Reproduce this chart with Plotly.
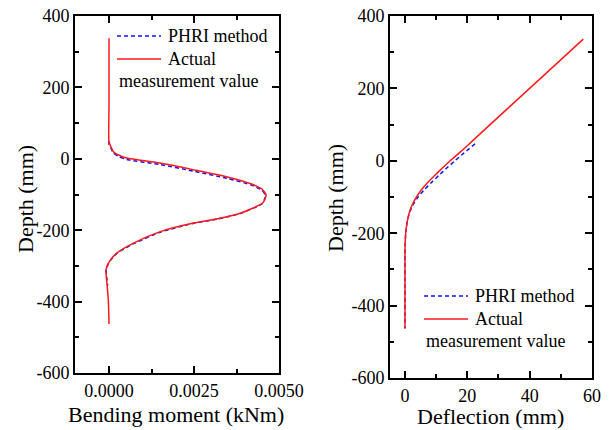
import plotly.graph_objects as go

# Bending moment profile (kNm) against depth (mm)
bm_depth_actual = [338, 150, 48, 35, 20, 10, 2, -12, -31, -51, -70, -85, -101, -110,
                   -124, -152, -168, -180, -204, -236, -264, -288, -311, -339, -395, -463]
bm_actual = [0.0, 0.0, 0.0, 0.00005, 0.00013, 0.0003, 0.00052, 0.0015, 0.0025, 0.00348,
             0.00417, 0.0045, 0.00462, 0.0046, 0.00452, 0.00388, 0.0032, 0.00249,
             0.00151, 0.00072, 0.00023, 0.00001, -0.00009, -0.00007, -0.00002, 0.0]

bm_depth_phri = [50, 40, 31, 16, 6, -2, -16, -35, -55, -73, -88, -103, -112,
                 -126, -153, -169, -181, -206, -239, -266, -290, -312, -340, -355]
bm_phri = [0.0, 0.0, 0.00005, 0.00013, 0.0003, 0.00052, 0.0015, 0.0025, 0.00348,
           0.00417, 0.0045, 0.0046, 0.00458, 0.0045, 0.00386, 0.00318, 0.00247,
           0.0015, 0.0007, 0.00022, 0.0, -0.00008, -0.00006, -0.00004]

# Deflection profile (mm) against depth (mm)
df_depth_actual = [336, 200, 100, 53, 26, 0, -20, -40, -60, -80, -100, -120, -140,
                   -165, -195, -230, -260, -350, -463]
df_actual = [57.2, 40.0, 27.3, 21.4, 18.0, 14.5, 12.0, 9.6, 7.3, 5.3, 3.7, 2.4, 1.5,
             0.8, 0.3, 0.05, 0.0, 0.0, 0.0]

df_depth_phri = [47, 20, 0, -20, -40, -60, -80, -100, -120, -140, -165, -195, -230,
                 -260, -350, -463]
df_phri = [22.5, 18.7, 16.0, 13.4, 10.9, 8.5, 6.2, 4.2, 2.7, 1.6, 0.8, 0.3, 0.05,
           0.0, 0.0, 0.0]

depth_ticks = [400, 200, 0, -200, -400, -600]
depth_tick_text = ["400", "200", "0", "-200", "-400", "-600"]
bm_ticks = [0.0, 0.0025, 0.005]
bm_tick_text = ["0.0000", "0.0025", "0.0050"]
df_ticks = [0, 20, 40, 60]
df_tick_text = ["0", "20", "40", "60"]

name_phri = "PHRI method"
name_actual_1 = "Actual"
name_actual_2 = "measurement value"

FONT = "Liberation Serif"
W, H = 611, 430
BLUE = "#1010ff"
RED = "#ff1a1a"
DASH = "4px,3px"

fig = go.Figure()

fig.add_trace(go.Scatter(x=bm_phri, y=bm_depth_phri, mode="lines",
                         line=dict(color=BLUE, width=1.5, dash=DASH, shape="spline", smoothing=0.6),
                         xaxis="x", yaxis="y", showlegend=False))
fig.add_trace(go.Scatter(x=bm_actual, y=bm_depth_actual, mode="lines",
                         line=dict(color=RED, width=1.5, shape="spline", smoothing=0.6),
                         xaxis="x", yaxis="y", showlegend=False))
fig.add_trace(go.Scatter(x=df_phri, y=df_depth_phri, mode="lines",
                         line=dict(color=BLUE, width=1.5, dash=DASH, shape="spline", smoothing=0.5),
                         xaxis="x2", yaxis="y2", showlegend=False))
fig.add_trace(go.Scatter(x=df_actual, y=df_depth_actual, mode="lines",
                         line=dict(color=RED, width=1.5, shape="spline", smoothing=0.5),
                         xaxis="x2", yaxis="y2", showlegend=False))

axis_common = dict(showline=True, linecolor="black", linewidth=2, mirror="allticks",
                   showgrid=False, zeroline=False, automargin=False,
                   ticks="inside", ticklen=7, tickwidth=1.5, tickcolor="black",
                   tickfont=dict(family=FONT, size=18, color="black"))
minor_common = dict(ticks="inside", ticklen=4, tickwidth=1.5, tickcolor="black", showgrid=False)

fig.update_layout(
    template="none",
    width=W, height=H,
    margin=dict(l=0, r=0, t=0, b=0, autoexpand=False),
    font=dict(family=FONT, color="black"),
    paper_bgcolor="white", plot_bgcolor="white",
    xaxis=dict(domain=[75 / W, 279 / W], range=[-0.001, 0.005], anchor="y",
               tickmode="array", tickvals=bm_ticks, ticktext=bm_tick_text,
               minor=dict(tickvals=[0.00125, 0.00375], **minor_common), **axis_common),
    yaxis=dict(domain=[1 - 373 / H, 1 - 16 / H], range=[-600, 400], anchor="x",
               tickmode="array", tickvals=depth_ticks, ticktext=depth_tick_text,
               minor=dict(tickvals=[300, 100, -100, -300, -500], **minor_common), **axis_common),
    xaxis2=dict(domain=[390 / W, 592 / W], range=[-4.8, 60], anchor="y2",
                tickmode="array", tickvals=df_ticks, ticktext=df_tick_text,
                minor=dict(tickvals=[10, 30, 50], **minor_common), **axis_common),
    yaxis2=dict(domain=[1 - 378 / H, 1 - 16 / H], range=[-600, 400], anchor="x2",
                tickmode="array", tickvals=depth_ticks, ticktext=depth_tick_text,
                minor=dict(tickvals=[300, 100, -100, -300, -500], **minor_common), **axis_common),
)

title_font = dict(family=FONT, size=22, color="black")
legend_font = dict(family=FONT, size=18, color="black")


def px(x):
    return x / W


def py(y):
    return 1 - y / H


annotations = [
    dict(text="Depth (mm)", x=px(25), y=py(199), textangle=-90, font=title_font),
    dict(text="Depth (mm)", x=px(335), y=py(198), textangle=-90, font=title_font),
    dict(text="Bending moment (kNm)", x=px(176), y=py(414), font=title_font),
    dict(text="Deflection (mm)", x=px(490), y=py(416), font=title_font),
]

shapes = []


def add_legend(x0, y0):
    # two-entry key: dashed blue sample, solid red sample, wrapped label
    shapes.append(dict(type="line", xref="paper", yref="paper",
                       x0=px(x0), x1=px(x0 + 44), y0=py(y0), y1=py(y0),
                       line=dict(color=BLUE, width=1.5, dash=DASH)))
    shapes.append(dict(type="line", xref="paper", yref="paper",
                       x0=px(x0), x1=px(x0 + 44), y0=py(y0 + 23), y1=py(y0 + 23),
                       line=dict(color=RED, width=1.5)))
    annotations.append(dict(text=name_phri, x=px(x0 + 49), y=py(y0), xanchor="left",
                            font=legend_font))
    annotations.append(dict(text=name_actual_1, x=px(x0 + 49), y=py(y0 + 23), xanchor="left",
                            font=legend_font))
    annotations.append(dict(text=name_actual_2, x=px(x0), y=py(y0 + 45), xanchor="left",
                            font=legend_font))


add_legend(117, 36)
add_legend(424, 296)

for a in annotations:
    a.update(xref="paper", yref="paper", showarrow=False)
    a.setdefault("xanchor", "center")
    a.setdefault("yanchor", "middle")

fig.update_layout(annotations=annotations, shapes=shapes)

fig.write_html("out.html")
